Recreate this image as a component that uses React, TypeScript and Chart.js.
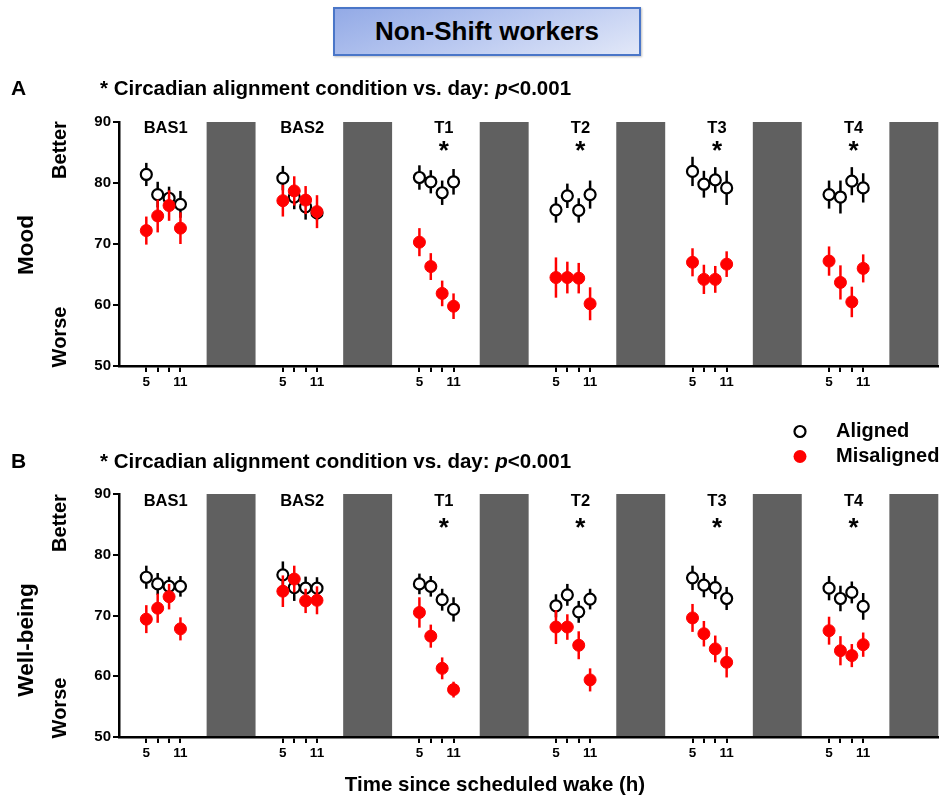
import React, { useEffect, useRef } from "react";
import { Chart, registerables } from "chart.js";

Chart.register(...registerables);

if (typeof document !== "undefined") {
  document.body.style.margin = "0";
}

// ---------------- DATA ----------------
const dayNames = ["BAS1", "BAS2", "T1", "T2", "T3", "T4"];
const dayStart = [0, 24, 48, 72, 96, 120];
const starredDays = [false, false, true, true, true, true];
const sampleHours = [5, 7, 9, 11];
const labeledHours = [5, 11];
const sleepStartHour = 15.6;
const sleepEndHour = 24.2;

const moodAligned = [81.4, 78.1, 77.5, 76.5, 80.8, 77.7, 76.1, 75.1, 80.9, 80.2, 78.4, 80.2, 75.6, 77.9, 75.5, 78.1, 81.9, 79.8, 80.5, 79.2, 78.1, 77.7, 80.3, 79.2];
const moodAlignedErr = [1.9, 2.1, 1.9, 2.2, 2.0, 2.0, 2.1, 1.2, 2.0, 1.9, 2.0, 2.1, 2.1, 2.0, 2.0, 2.3, 2.4, 2.2, 2.1, 2.8, 2.3, 2.7, 2.3, 2.4];
const moodMisaligned = [72.2, 74.6, 76.3, 72.6, 77.1, 78.7, 77.2, 75.3, 70.3, 66.3, 61.9, 59.8, 64.5, 64.5, 64.4, 60.2, 67.0, 64.2, 64.2, 66.7, 67.2, 63.7, 60.5, 66.0];
const moodMisalignedErr = [2.3, 2.7, 2.5, 2.6, 2.6, 2.4, 2.3, 2.7, 2.3, 2.2, 2.1, 2.1, 3.3, 2.6, 2.5, 2.7, 2.3, 2.4, 2.2, 2.1, 2.4, 2.8, 2.5, 2.3];

const wellAligned = [76.3, 75.2, 74.8, 74.8, 76.7, 74.6, 74.5, 74.5, 75.2, 74.8, 72.6, 71.0, 71.6, 73.4, 70.6, 72.7, 76.2, 75.0, 74.6, 72.8, 74.5, 72.8, 73.8, 71.5];
const wellAlignedErr = [1.9, 1.8, 1.6, 1.7, 2.2, 2.2, 1.9, 1.8, 1.7, 1.7, 1.8, 2.0, 1.9, 1.8, 1.8, 1.7, 2.0, 2.0, 1.9, 1.9, 2.0, 2.1, 1.8, 2.2];
const wellMisaligned = [69.4, 71.2, 73.1, 67.8, 74.0, 76.0, 72.4, 72.5, 70.5, 66.6, 61.3, 57.8, 68.1, 68.1, 65.1, 59.4, 69.6, 67.0, 64.5, 62.3, 67.5, 64.2, 63.4, 65.2];
const wellMisalignedErr = [2.3, 2.4, 2.1, 1.9, 2.6, 2.2, 2.0, 2.3, 2.5, 1.9, 1.8, 1.3, 2.8, 2.1, 2.3, 1.9, 2.3, 2.1, 2.2, 2.5, 2.3, 2.4, 1.9, 2.0];

const yTicks = [50, 60, 70, 80, 90];

// ---------------- STYLE ----------------
const FONT = '"Liberation Sans", Arial, Helvetica, sans-serif';
const RED = "#ff0000";
const SLEEP = "#606060";
const X_MIN = 0.2;
const X_MAX = 144.2;
const AXIS_LEFT = 119;
const W = 946;

const sampleX = dayStart.flatMap((d) => sampleHours.map((h) => d + h));
const toPoints = (vals: number[]) => vals.map((v, i) => ({ x: sampleX[i], y: v }));

type PanelCfg = {
  top: number;
  height: number;
  chartTop: number;
  chartBottom: number;
  aligned: number[];
  alignedErr: number[];
  misaligned: number[];
  misalignedErr: number[];
  letter: string;
  letterY: number;
  axisTitle: string;
  axisTitleY: number;
  betterY: number;
  worseY: number;
  groupY: number;
  starY: number;
  legend: boolean;
  xTitle: boolean;
};

function boldFont(size: number, italic = false) {
  return `${italic ? "italic " : ""}bold ${size}px ${FONT}`;
}

function rotatedText(ctx: CanvasRenderingContext2D, text: string, x: number, y: number, size: number) {
  ctx.save();
  ctx.translate(x, y);
  ctx.rotate(-Math.PI / 2);
  ctx.font = boldFont(size);
  ctx.textAlign = "center";
  ctx.textBaseline = "middle";
  ctx.fillText(text, 0, 0);
  ctx.restore();
}

function makePlugin(cfg: PanelCfg) {
  return {
    id: "panelDeco",
    beforeDraw(chart: any) {
      const { ctx, chartArea, scales } = chart;
      const xs = scales.x;
      ctx.save();
      ctx.fillStyle = SLEEP;
      dayStart.forEach((d) => {
        const x0 = xs.getPixelForValue(d + sleepStartHour);
        const x1 = Math.min(xs.getPixelForValue(d + sleepEndHour), chartArea.right);
        ctx.fillRect(x0, chartArea.top, x1 - x0, chartArea.bottom - chartArea.top);
      });
      ctx.restore();
    },
    beforeDatasetDraw(chart: any, args: any) {
      const { ctx, scales } = chart;
      const isAligned = args.index === 1;
      const vals = isAligned ? cfg.aligned : cfg.misaligned;
      const errs = isAligned ? cfg.alignedErr : cfg.misalignedErr;
      ctx.save();
      ctx.strokeStyle = isAligned ? "#000" : RED;
      ctx.lineWidth = 2.5;
      vals.forEach((v, i) => {
        const px = scales.x.getPixelForValue(sampleX[i]);
        ctx.beginPath();
        ctx.moveTo(px, scales.y.getPixelForValue(v + errs[i]));
        ctx.lineTo(px, scales.y.getPixelForValue(v - errs[i]));
        ctx.stroke();
      });
      ctx.restore();
    },
    afterDraw(chart: any) {
      const { ctx, scales } = chart;
      ctx.save();
      ctx.fillStyle = "#000";
      // day labels & stars
      ctx.textAlign = "center";
      ctx.textBaseline = "middle";
      dayNames.forEach((name, i) => {
        const off = name.startsWith("BAS") ? 8.4 : 9.3;
        const px = scales.x.getPixelForValue(dayStart[i] + off);
        ctx.font = boldFont(16.5);
        ctx.fillText(name, px, cfg.groupY);
        if (starredDays[i]) {
          ctx.font = boldFont(26);
          ctx.fillText("*", px, cfg.starY + 6);
        }
      });
      // panel letter
      ctx.textAlign = "left";
      ctx.font = boldFont(21);
      ctx.fillText(cfg.letter, 11, cfg.letterY);
      // subtitle
      const part1 = "* Circadian alignment condition vs. day: ";
      const part2 = "p";
      const part3 = "<0.001";
      const fs = 20.5;
      let x = 100;
      ctx.font = boldFont(fs);
      ctx.fillText(part1, x, cfg.letterY);
      x += ctx.measureText(part1).width;
      ctx.font = boldFont(fs, true);
      ctx.fillText(part2, x, cfg.letterY);
      x += ctx.measureText(part2).width;
      ctx.font = boldFont(fs);
      ctx.fillText(part3, x, cfg.letterY);
      // axis titles
      rotatedText(ctx, cfg.axisTitle, 27, cfg.axisTitleY, 22.5);
      rotatedText(ctx, "Better", 60, cfg.betterY, 20);
      rotatedText(ctx, "Worse", 60, cfg.worseY, 20);
      // legend
      if (cfg.legend) {
        ctx.beginPath();
        ctx.arc(800, 31.5, 5.5, 0, Math.PI * 2);
        ctx.fillStyle = "#fff";
        ctx.fill();
        ctx.lineWidth = 2.2;
        ctx.strokeStyle = "#000";
        ctx.stroke();
        ctx.beginPath();
        ctx.arc(800, 56.5, 6.5, 0, Math.PI * 2);
        ctx.fillStyle = RED;
        ctx.fill();
        ctx.fillStyle = "#000";
        ctx.font = boldFont(20);
        ctx.textAlign = "left";
        ctx.fillText("Aligned", 836, 31.5);
        ctx.fillText("Misaligned", 836, 56.5);
      }
      if (cfg.xTitle) {
        ctx.textAlign = "center";
        ctx.font = boldFont(20.5);
        ctx.fillText("Time since scheduled wake (h)", 495, 385);
      }
      ctx.restore();
    },
  };
}

function Panel({ cfg }: { cfg: PanelCfg }) {
  const ref = useRef<HTMLCanvasElement>(null);
  useEffect(() => {
    const canvas = ref.current;
    if (!canvas) return;
    const tickValues = dayStart.flatMap((d) => sampleHours.map((h) => d + h));
    const chart = new Chart(canvas, {
      type: "scatter",
      data: {
        datasets: [
          {
            label: "Misaligned",
            data: toPoints(cfg.misaligned),
            pointRadius: 6,
            pointBackgroundColor: RED,
            pointBorderColor: RED,
            pointBorderWidth: 1,
            showLine: false,
          },
          {
            label: "Aligned",
            data: toPoints(cfg.aligned),
            pointRadius: 5.5,
            pointBackgroundColor: "#fff",
            pointBorderColor: "#000",
            pointBorderWidth: 2.2,
            showLine: false,
          },
        ],
      },
      options: {
        responsive: false,
        animation: false,
        events: [],
        layout: { padding: { top: cfg.chartTop, right: 3, left: 0, bottom: 0 } },
        plugins: { legend: { display: false }, tooltip: { enabled: false } },
        scales: {
          x: {
            type: "linear",
            min: X_MIN,
            max: X_MAX,
            afterFit: (s: any) => {
              s.height = cfg.height - cfg.chartBottom;
            },
            afterBuildTicks: (s: any) => {
              s.ticks = tickValues.map((v) => ({ value: v }));
            },
            ticks: {
              autoSkip: false,
              maxRotation: 0,
              padding: 2,
              color: "#000",
              font: { family: FONT, size: 13.5, weight: "bold" },
              callback: (v: any) => {
                const h = Math.round(((Number(v) % 24) + 24) % 24);
                return labeledHours.includes(h) ? String(h) : "";
              },
            },
            grid: { drawOnChartArea: false, tickLength: 6, color: "#000", lineWidth: 2 },
            border: { color: "#000", width: 2.5 },
          },
          y: {
            min: 50,
            max: 90,
            afterFit: (s: any) => {
              s.width = AXIS_LEFT;
            },
            afterBuildTicks: (s: any) => {
              s.ticks = yTicks.map((v) => ({ value: v }));
            },
            ticks: {
              padding: 2,
              color: "#000",
              font: { family: FONT, size: 15, weight: "bold" },
            },
            grid: { drawOnChartArea: false, tickLength: 6, color: "#000", lineWidth: 2 },
            border: { color: "#000", width: 2.5 },
          },
        },
      } as any,
      plugins: [makePlugin(cfg)],
    });
    return () => chart.destroy();
  }, []);
  return (
    <canvas
      ref={ref}
      width={W}
      height={cfg.height}
      style={{ position: "absolute", left: 0, top: cfg.top, width: W, height: cfg.height }}
    />
  );
}

const panelA: PanelCfg = {
  top: 0,
  height: 400,
  chartTop: 122,
  chartBottom: 366,
  aligned: moodAligned,
  alignedErr: moodAlignedErr,
  misaligned: moodMisaligned,
  misalignedErr: moodMisalignedErr,
  letter: "A",
  letterY: 89,
  axisTitle: "Mood",
  axisTitleY: 245,
  betterY: 150,
  worseY: 337,
  groupY: 128,
  starY: 146,
  legend: false,
  xTitle: false,
};

const panelB: PanelCfg = {
  top: 400,
  height: 398,
  chartTop: 94,
  chartBottom: 337,
  aligned: wellAligned,
  alignedErr: wellAlignedErr,
  misaligned: wellMisaligned,
  misalignedErr: wellMisalignedErr,
  letter: "B",
  letterY: 62,
  axisTitle: "Well-being",
  axisTitleY: 240,
  betterY: 123,
  worseY: 308,
  groupY: 101.5,
  starY: 123,
  legend: true,
  xTitle: true,
};

export default function App() {
  return (
    <div style={{ position: "relative", width: W, height: 798, background: "#fff", overflow: "hidden" }}>
      <div
        style={{
          position: "absolute",
          left: 333,
          top: 7,
          width: 308,
          height: 49,
          boxSizing: "border-box",
          border: "2px solid #4a76c8",
          background: "linear-gradient(160deg, #93aae6 0%, #b9c8f0 50%, #e2e8f8 100%)",
          display: "flex",
          alignItems: "center",
          justifyContent: "center",
          fontFamily: FONT,
          fontWeight: "bold",
          fontSize: 26,
          color: "#000",
          boxShadow: "1px 1px 2px rgba(0,0,0,0.25)",
        }}
      >
        Non-Shift workers
      </div>
      <Panel cfg={panelA} />
      <Panel cfg={panelB} />
    </div>
  );
}
